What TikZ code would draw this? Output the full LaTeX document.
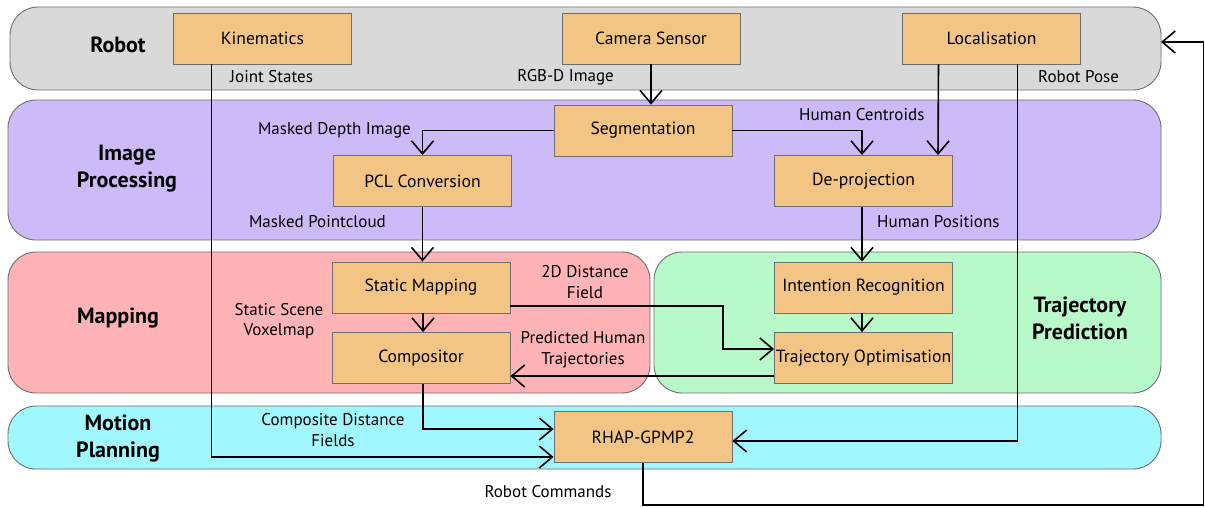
\documentclass[tikz,border=0pt]{standalone}
\usepackage{fontspec}
\setmainfont{PT Sans}
\usetikzlibrary{arrows.meta}
\definecolor{robotc}{HTML}{D9D9D9}
\definecolor{imgc}{HTML}{CDBBF9}
\definecolor{mapc}{HTML}{FFB3B6}
\definecolor{trajc}{HTML}{B8F9C9}
\definecolor{planc}{HTML}{A0F7FE}
\definecolor{boxc}{HTML}{F3C584}
\definecolor{edgec}{HTML}{6E6E6E}
\tikzset{
  band/.style={draw=edgec, line width=0.9pt, rounded corners=28pt},
  blk/.style={draw=edgec, line width=0.9pt, fill=boxc, minimum width=178pt,
    minimum height=51pt, inner sep=0pt, font=\fontsize{17.6}{21}\selectfont},
  title/.style={font=\bfseries\fontsize{22}{27}\selectfont, align=center},
  lbl/.style={font=\fontsize{17}{20.5}\selectfont, align=center, inner sep=0pt},
  flow/.style={draw=black, line width=1.6pt, -{Straight Barb[length=13pt,width=22pt,line width=1.6pt]}},
  wire/.style={draw=black, line width=1.6pt}
}
\begin{document}
\begin{tikzpicture}[x=1pt,y=-1pt]
\useasboundingbox (0,0) rectangle (1205,507);
\fill[white] (0,0) rectangle (1205,507);

% layer bands
\draw[band, fill=robotc] (10,7) rectangle (1161,90);
\draw[band, fill=imgc] (8,100) rectangle (1161,240);
\draw[band, fill=mapc] (8,252) rectangle (650,393);
\draw[band, fill=trajc] (654,252) rectangle (1161,393);
\draw[band, fill=planc] (8,406) rectangle (1161,469);
\coordinate (robotin) at (1161,42);

% layer titles
\node[title] (tRobot) at (118,45) {Robot};
\node[title] (tImg) at (127,169) {Image\\Processing};
\node[title] (tMap) at (118,318) {Mapping};
\node[title] (tTraj) at (1080,318) {Trajectory\\Prediction};
\node[title] (tPlan) at (118,439) {Motion\\Planning};

% processing blocks
\node[blk] (kin) at (262.5,38.5) {Kinematics};
\node[blk] (cam) at (651,38.5) {Camera Sensor};
\node[blk] (loc) at (991.5,38.5) {Localisation};
\node[blk] (seg) at (643,130.5) {Segmentation};
\node[blk] (pcl) at (422.5,181) {PCL Conversion};
\node[blk] (dep) at (863.5,181) {De-projection};
\node[blk] (smap) at (421,287.5) {Static Mapping};
\node[blk] (comp) at (421,358) {Compositor};
\node[blk] (intr) at (863.5,287.5) {Intention Recognition};
\node[blk] (topt) at (863.5,358) {Trajectory Optimisation};
\node[blk] (rhap) at (643,437) {RHAP-GPMP2};

% robot outputs
\draw[flow] (cam.south) -- ([xshift=8pt]seg.north);
\draw[flow] ([xshift=-51pt]kin.south) |- ([yshift=-20pt]rhap.west);
\draw[flow] ([xshift=26pt]loc.south) |- ([yshift=-4pt]rhap.east);
\draw[flow] ([xshift=-53pt]loc.south) -- ([xshift=74.5pt]dep.north);

% image processing
\draw[flow] (seg.west) -| (pcl.north);
\draw[flow] (seg.east) -| ([xshift=-1.5pt]dep.north);
\draw[flow] (pcl.south) -- ([xshift=1.5pt]smap.north);
\draw[flow] ([xshift=-1.5pt]dep.south) -- ([xshift=-1.5pt]intr.north);

% mapping and prediction
\draw[flow] ([xshift=2pt]smap.south) -- ([xshift=2pt]comp.north);
\draw[flow] ([xshift=-1.5pt]intr.south) -- ([xshift=-1.5pt]topt.north);
\coordinate (bend) at (723,306);
\draw[flow] ([yshift=-18.5pt]smap.east) -- (bend) |- ([yshift=9pt]topt.west);
\draw[flow] ([yshift=-18pt]topt.west) -- ([yshift=-18pt]comp.east);
\draw[flow] ([xshift=2pt]comp.south) |- ([yshift=8pt]rhap.west);

% command loop back to the robot
\coordinate (c1) at (643,505);
\coordinate (c2) at (1203.5,505);
\coordinate (c3) at (1203.5,42);
\draw[wire] (rhap.south -| c1) -- (c1) -- (c2) -- (c3);
\draw[flow] (c3) -- (robotin);

% signal labels
\node[lbl, anchor=west] (lJoint) at (230,77) {Joint States};
\node[lbl, anchor=east] (lRGB) at (614,77) {RGB-D Image};
\node[lbl, anchor=west] (lPose) at (1038,77) {Robot Pose};
\node[lbl, anchor=east] (lMDI) at (411,130) {Masked Depth Image};
\node[lbl, anchor=west] (lHC) at (799,115) {Human Centroids};
\node[lbl, anchor=east] (lMP) at (386,222) {Masked Pointcloud};
\node[lbl, anchor=west] (lHP) at (877,222) {Human Positions};
\node[lbl] (l2D) at (585,282) {2D Distance\\Field};
\node[lbl] (lSSV) at (279,321) {Static Scene\\Voxelmap};
\node[lbl] (lPHT) at (583,350) {Predicted Human\\Trajectories};
\node[lbl] (lCDF) at (333,430) {Composite Distance\\Fields};
\node[lbl] (lRC) at (548,492) {Robot Commands};
\end{tikzpicture}
\end{document}
